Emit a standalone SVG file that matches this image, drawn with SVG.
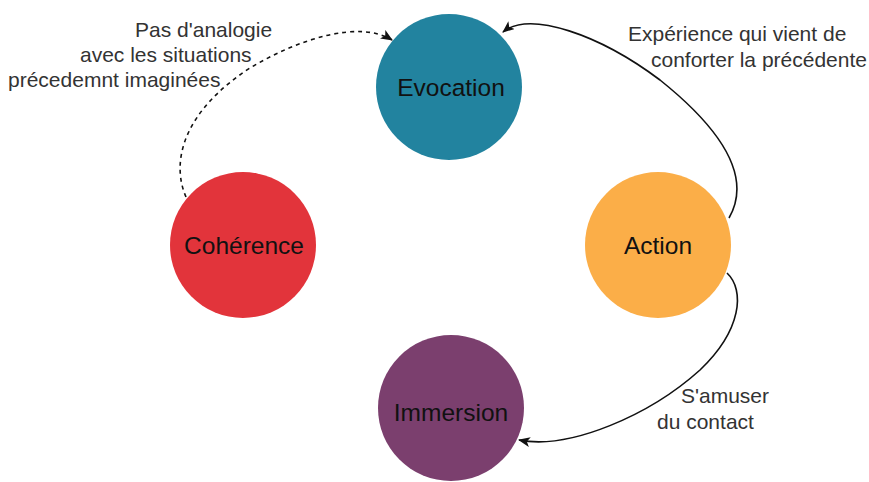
<svg xmlns="http://www.w3.org/2000/svg" width="869" height="482" viewBox="0 0 869 482">
<style>
.node-label{font-family:"Liberation Sans",Arial,sans-serif;font-size:24.5px;fill:#111;text-anchor:middle}
.lbl{font-family:"Liberation Sans",Arial,sans-serif;font-size:21px;fill:#333}
.edge{fill:none;stroke:#111;stroke-width:1.6}
.dashed{stroke-dasharray:4 4}
</style>
<defs>
<marker id="arrow" viewBox="0 0 12 10" refX="11" refY="5" markerWidth="12" markerHeight="10" markerUnits="userSpaceOnUse" orient="auto">
<path d="M0,0 L12,5 L0,10 L3,5 z" fill="#111"/>
</marker>
</defs>
<rect width="869" height="482" fill="#fff"/>
<g id="evocation">
<circle cx="449" cy="87" r="73" fill="#22839f"/>
<text class="node-label" x="451" y="95.5">Evocation</text>
</g>
<g id="coherence">
<circle cx="243" cy="245" r="73" fill="#e2343b"/>
<text class="node-label" x="244" y="253.5">Cohérence</text>
</g>
<g id="action">
<circle cx="658" cy="245" r="73" fill="#fbae48"/>
<text class="node-label" x="658" y="253.5">Action</text>
</g>
<g id="immersion">
<circle cx="451" cy="408" r="73" fill="#7b3f6e"/>
<text class="node-label" x="451" y="421">Immersion</text>
</g>
<g id="connectors">
<path class="edge" d="M 729 218 C 748 185, 735 140, 660 80 C 600 35, 530 10, 503 32" marker-end="url(#arrow)"/>
<path class="edge" d="M 727 273 C 745 290, 742 330, 700 370 C 650 415, 570 450, 519 440" marker-end="url(#arrow)"/>
<path class="edge dashed" d="M 186 197 C 170 160, 185 110, 250 68 C 300 38, 360 20, 392 40" marker-end="url(#arrow)"/>
</g>
<g id="labels">
<text class="lbl" x="135" y="37">Pas d'analogie</text>
<text class="lbl" x="80" y="62">avec les situations</text>
<text class="lbl" x="8" y="87">précedemnt imaginées</text>
<text class="lbl" x="628" y="41">Expérience qui vient de</text>
<text class="lbl" x="651" y="67">conforter la précédente</text>
<text class="lbl" x="681" y="403">S'amuser</text>
<text class="lbl" x="657" y="429">du contact</text>
</g>
</svg>
